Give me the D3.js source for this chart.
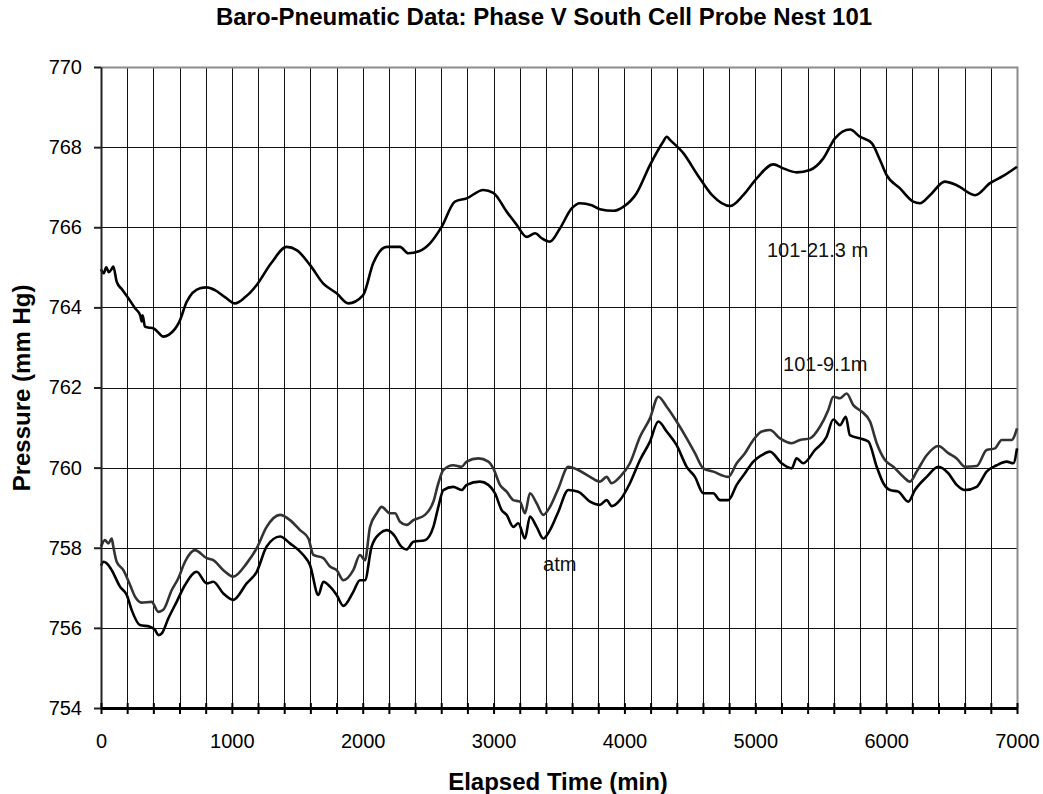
<!DOCTYPE html>
<html>
<head>
<meta charset="utf-8">
<script src="https://cdn.jsdelivr.net/npm/d3@7"></script>
<style>
body{margin:0;background:#fff;}
svg{display:block;font-family:Arial,"Liberation Sans",sans-serif;}
</style>
</head>
<body>
<svg id="chart" width="1043" height="794"></svg>
<script>
// elapsed time (min), pressure (mm Hg)
const deepProbe = [[0,764.95],[20,764.85],[40,765.0],[60,764.88],[80,764.95],[94,765.02],[120,764.64],[160,764.45],[209,764.23],[260,763.98],[300,763.8],[311,763.65],[318,763.8],[336,763.52],[360,763.5],[400,763.48],[430,763.4],[476,763.27],[520,763.32],[600,763.65],[655,764.14],[757,764.48],[808,764.5],[871,764.43],[950,764.25],[1024,764.1],[1100,764.25],[1190,764.56],[1300,765.1],[1419,765.51],[1495,765.43],[1597,765.06],[1697,764.6],[1801,764.35],[1890,764.1],[2002,764.3],[2080,765.1],[2183,765.51],[2285,765.51],[2348,765.35],[2430,765.4],[2514,765.6],[2603,766.01],[2705,766.64],[2794,766.72],[2921,766.93],[2998,766.86],[3100,766.39],[3177,766.06],[3253,765.76],[3317,765.85],[3370,765.72],[3431,765.64],[3507,765.97],[3597,766.47],[3660,766.6],[3750,766.55],[3813,766.45],[3915,766.41],[3991,766.51],[4093,766.85],[4195,767.55],[4297,768.14],[4323,768.26],[4348,768.18],[4450,767.85],[4560,767.3],[4670,766.8],[4807,766.53],[4908,766.8],[5011,767.22],[5138,767.57],[5214,767.47],[5316,767.37],[5418,767.43],[5520,767.72],[5609,768.22],[5724,768.44],[5800,768.26],[5890,768.1],[5953,767.68],[6004,767.3],[6106,766.97],[6207,766.64],[6258,766.6],[6335,766.8],[6449,767.14],[6539,767.05],[6679,766.8],[6794,767.1],[6895,767.28],[7000,767.51]];

const shallowProbe = [[0,758.03],[30,758.19],[56,758.11],[82,758.23],[94,758.03],[120,757.65],[171,757.44],[222,757.07],[260,756.78],[311,756.63],[387,756.65],[438,756.4],[476,756.45],[540,756.94],[591,757.24],[642,757.65],[718,757.94],[808,757.74],[858,757.69],[935,757.44],[1011,757.28],[1113,757.61],[1190,757.99],[1266,758.52],[1368,758.82],[1444,758.69],[1521,758.44],[1585,758.23],[1623,757.82],[1699,757.74],[1750,757.53],[1801,757.44],[1852,757.19],[1928,757.44],[1979,757.82],[2017,757.69],[2056,758.52],[2107,758.86],[2145,759.02],[2208,758.86],[2247,758.86],[2285,758.65],[2336,758.57],[2387,758.69],[2476,758.82],[2540,759.15],[2578,759.61],[2616,759.94],[2692,760.06],[2756,760.02],[2794,760.15],[2883,760.23],[2960,760.15],[2998,759.98],[3049,759.57],[3100,759.4],[3151,759.19],[3202,759.15],[3240,758.86],[3278,759.36],[3329,759.11],[3380,758.82],[3431,759.02],[3495,759.48],[3571,760.02],[3647,759.94],[3737,759.77],[3813,759.65],[3864,759.77],[3903,759.61],[3966,759.77],[4042,760.11],[4119,760.77],[4195,761.23],[4259,761.77],[4323,761.52],[4399,761.15],[4476,760.73],[4539,760.36],[4603,759.98],[4679,759.9],[4794,759.77],[4858,760.11],[4921,760.36],[4985,760.69],[5049,760.9],[5112,760.94],[5189,760.73],[5278,760.61],[5342,760.69],[5418,760.73],[5494,761.02],[5558,761.44],[5596,761.77],[5647,761.73],[5698,761.85],[5749,761.56],[5813,761.4],[5877,761.15],[5928,760.61],[5991,760.19],[6055,760.02],[6131,759.77],[6182,759.65],[6233,759.9],[6310,760.31],[6399,760.54],[6475,760.36],[6539,760.23],[6603,760.02],[6692,760.04],[6768,760.44],[6832,760.48],[6883,760.69],[6959,760.69],[7000,760.98]];

const atmosphere = [[0,757.55],[20,757.65],[43,757.61],[82,757.44],[145,757.03],[197,756.82],[234,756.45],[298,756.07],[374,756.03],[413,755.95],[438,755.82],[464,755.86],[515,756.24],[578,756.65],[642,757.07],[731,757.4],[808,757.11],[858,757.15],[935,756.86],[1011,756.7],[1113,757.11],[1190,757.4],[1266,758.03],[1368,758.28],[1444,758.11],[1546,757.82],[1597,757.57],[1661,756.82],[1699,757.15],[1750,757.03],[1801,756.82],[1852,756.55],[1928,756.9],[1979,757.19],[2017,757.19],[2068,758.03],[2132,758.36],[2183,758.44],[2247,758.28],[2285,758.07],[2336,757.96],[2387,758.15],[2476,758.19],[2540,758.52],[2578,759.02],[2616,759.44],[2692,759.52],[2756,759.44],[2794,759.57],[2896,759.65],[2960,759.57],[3011,759.36],[3062,758.94],[3100,758.82],[3151,758.52],[3189,758.61],[3240,758.23],[3278,758.78],[3329,758.52],[3380,758.23],[3431,758.44],[3495,758.9],[3571,759.44],[3647,759.4],[3737,759.15],[3813,759.07],[3864,759.19],[3903,759.04],[3966,759.19],[4042,759.61],[4119,760.19],[4195,760.65],[4259,761.15],[4323,760.9],[4399,760.56],[4476,760.02],[4539,759.77],[4603,759.36],[4679,759.36],[4731,759.19],[4794,759.19],[4858,759.57],[4921,759.86],[4985,760.15],[5049,760.31],[5112,760.4],[5201,760.11],[5278,759.98],[5316,760.23],[5367,760.11],[5456,760.44],[5545,760.77],[5596,761.2],[5647,761.06],[5692,761.27],[5723,760.81],[5800,760.73],[5864,760.65],[5928,760.02],[5979,759.61],[6030,759.44],[6093,759.4],[6169,759.15],[6220,759.44],[6310,759.77],[6399,760.02],[6475,759.86],[6539,759.57],[6603,759.44],[6692,759.52],[6768,759.9],[6845,760.06],[6921,760.15],[6972,760.11],[7000,760.48]];

const xTicks = d3.range(0, 7001, 200);
const yTicks = d3.range(754, 771, 2);
const seriesLabels = [
	{text:"101-21.3 m", t:5089, p:765.26},
	{text:"101-9.1m", t:5212, p:762.41},
	{text:"atm", t:3378, p:757.42}
];

const svg = d3.select("#chart");
const plotLeft = 101, plotRight = 1017, plotTop = 67, plotBottom = 708;

const x = d3.scaleLinear().domain([0,7000]).range([plotLeft,plotRight]);
const y = d3.scaleLinear().domain([754,770]).range([plotBottom,plotTop]);

// grid
const grid = svg.append("g").attr("id","gGrid");
grid.selectAll("line.v")
	.data(xTicks.filter(d => d > 0 && d < 7000))
	.enter().append("line")
	.attr("x1", d => Math.round(x(d)) + 0.5)
	.attr("x2", d => Math.round(x(d)) + 0.5)
	.attr("y1", plotTop).attr("y2", plotBottom)
	.attr("stroke","#111").attr("stroke-width",1);
grid.selectAll("line.h")
	.data(yTicks.filter(d => d > 754 && d < 770))
	.enter().append("line")
	.attr("x1", plotLeft).attr("x2", plotRight)
	.attr("y1", d => Math.round(y(d)) + 0.5)
	.attr("y2", d => Math.round(y(d)) + 0.5)
	.attr("stroke","#111").attr("stroke-width",1);

// plot border (top and right in gray)
svg.append("path")
	.attr("d", "M" + plotLeft + "," + (plotTop + 0.5) + "H" + (plotRight + 0.5) + "V" + plotBottom)
	.attr("fill","none").attr("stroke","#8c8c8c").attr("stroke-width",2);

// series
const line = d3.line().x(d => x(d[0])).y(d => y(d[1])).curve(d3.curveMonotoneX);
const series = [
	{data: deepProbe, color: "#000"},
	{data: shallowProbe, color: "#333"},
	{data: atmosphere, color: "#000"}
];
svg.append("g").attr("id","gMain")
	.selectAll("path")
	.data(series)
	.enter().append("path")
	.attr("d", d => line(d.data))
	.attr("fill","none")
	.attr("stroke", d => d.color)
	.attr("stroke-width",2.6)
	.attr("stroke-linejoin","round");

// y axis
const yAxis = svg.append("g")
	.attr("transform","translate(" + plotLeft + ",0)")
	.call(d3.axisLeft(y).tickValues(yTicks).tickSize(7).tickPadding(12).tickSizeOuter(0));
yAxis.select(".domain").attr("stroke","#222").attr("stroke-width",2);
yAxis.selectAll("line").attr("stroke","#222").attr("stroke-width",2);
yAxis.selectAll("text").attr("font-size",20).attr("fill","#000")
	.attr("font-family","Arial, 'Liberation Sans', sans-serif");

// x axis, ticks cross the line
const xAxis = svg.append("g")
	.attr("transform","translate(0," + plotBottom + ")")
	.call(d3.axisBottom(x).tickValues(xTicks).tickSize(5).tickSizeOuter(0)
		.tickFormat(d => d % 1000 === 0 ? d : ""));
xAxis.select(".domain").attr("stroke","#000").attr("stroke-width",3);
xAxis.selectAll(".tick line").attr("y1",-5).attr("y2",6)
	.attr("stroke","#000").attr("stroke-width",2);
xAxis.selectAll("text").attr("font-size",20).attr("fill","#000")
	.attr("y",40).attr("dy",0)
	.attr("font-family","Arial, 'Liberation Sans', sans-serif");

// series labels
svg.append("g").selectAll("text")
	.data(seriesLabels)
	.enter().append("text")
	.attr("x", d => x(d.t))
	.attr("y", d => y(d.p))
	.attr("font-size",20)
	.attr("fill","#111")
	.text(d => d.text);

// titles
svg.append("text")
	.attr("x",544).attr("y",25)
	.attr("text-anchor","middle")
	.attr("font-size",24).attr("font-weight","bold")
	.text("Baro-Pneumatic Data: Phase V South Cell Probe Nest 101");
svg.append("text")
	.attr("x",558).attr("y",790)
	.attr("text-anchor","middle")
	.attr("font-size",24).attr("font-weight","bold")
	.text("Elapsed Time (min)");
svg.append("text")
	.attr("transform","translate(30,388) rotate(-90)")
	.attr("text-anchor","middle")
	.attr("font-size",24).attr("font-weight","bold")
	.text("Pressure (mm Hg)");
</script>
</body>
</html>
